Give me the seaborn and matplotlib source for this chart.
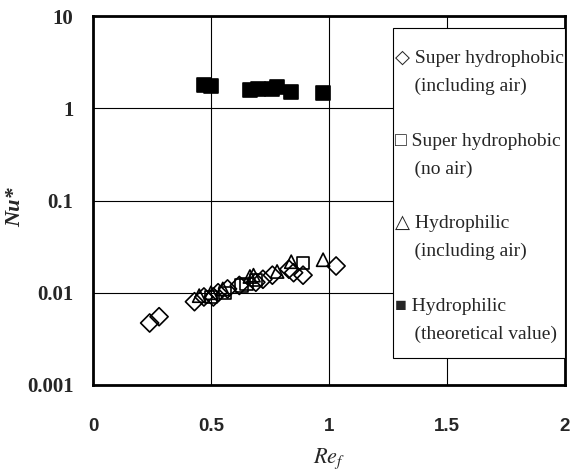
import matplotlib
matplotlib.use("Agg")
import matplotlib.pyplot as plt
from matplotlib.font_manager import FontProperties
from matplotlib.patches import Rectangle
import seaborn as sns

# Super hydrophobic (including air)
sh_air_x = [0.24, 0.28, 0.43, 0.47, 0.51, 0.53, 0.57, 0.62, 0.69, 0.72, 0.76, 0.83, 0.85, 0.89, 1.03]
sh_air_y = [0.0047, 0.0055, 0.0080, 0.0090, 0.0090, 0.0100, 0.0110, 0.0120, 0.0130, 0.0140, 0.0155, 0.0180, 0.0165, 0.0155, 0.0195]
# Super hydrophobic (no air)
sh_noair_x = [0.50, 0.56, 0.63, 0.65, 0.69, 0.89]
sh_noair_y = [0.0090, 0.0100, 0.0120, 0.0125, 0.0138, 0.0210]
# Hydrophilic (including air)
hp_air_x = [0.45, 0.50, 0.55, 0.665, 0.68, 0.78, 0.84, 0.975]
hp_air_y = [0.0093, 0.0100, 0.0110, 0.0150, 0.0155, 0.0170, 0.0217, 0.0228]
# Hydrophilic (theoretical value)
hp_th_x = [0.47, 0.50, 0.665, 0.70, 0.76, 0.78, 0.84, 0.975]
hp_th_y = [1.79, 1.75, 1.58, 1.62, 1.60, 1.68, 1.50, 1.45]

labels = ["\u25C7 Super hydrophobic\n    (including air)", "\u25A1 Super hydrophobic\n    (no air)",
          "\u25B3 Hydrophilic\n    (including air)", "\u25A0 Hydrophilic\n    (theoretical value)"]
xticks = [0, 0.5, 1, 1.5, 2]
xticklabels = ["0", "0.5", "1", "1.5", "2"]
yticks = [0.001, 0.01, 0.1, 1, 10]
yticklabels = ["0.001", "0.01", "0.1", "1", "10"]

sns.set_theme(style="white")
plt.rcParams["mathtext.fontset"] = "stix"
plt.rcParams["font.family"] = ["Liberation Serif", "DejaVu Sans"]

fig = plt.figure(figsize=(5.77, 4.72), dpi=100)
ax = fig.add_axes([93/577, 1-385/472, (565-93)/577, (385-16)/472])

series = [
    (sh_air_x, sh_air_y, "D", 85, False, labels[0]),
    (sh_noair_x, sh_noair_y, "s", 80, False, labels[1]),
    (hp_air_x, hp_air_y, "^", 90, False, labels[2]),
    (hp_th_x, hp_th_y, "s", 105, True, labels[3]),
]
for xs, ys, m, s, filled, lab in series:
    sns.scatterplot(x=xs, y=ys, marker=m, s=s, ax=ax, color="black",
                    linewidth=1.2, label=lab, zorder=3)
    coll = ax.collections[-1]
    coll.set_edgecolor("black")
    coll.set_facecolor("black" if filled else "none")

ax.set_yscale("log")
ax.set_xlim(0, 2)
ax.set_ylim(0.001, 10)
ax.set_xticks(xticks)
ax.set_xticklabels(xticklabels, fontfamily="Liberation Sans", fontweight="bold", fontsize=13.5)
ax.set_yticks(yticks)
ax.set_yticklabels(yticklabels, fontfamily="Liberation Serif", fontweight="bold", fontsize=15)
ax.minorticks_off()
ax.tick_params(axis="x", length=0, pad=24)
ax.tick_params(axis="y", length=0, pad=14)
ax.grid(True, color="black", linewidth=0.8)
ax.set_axisbelow(True)
for sp in ax.spines.values():
    sp.set_color("black")
    sp.set_linewidth(2.0)
    sp.set_visible(True)

ax.set_ylabel("Nu*", fontfamily="Liberation Serif", fontstyle="italic", fontweight="bold",
              fontsize=16)
ax.yaxis.set_label_coords(-0.144, 0.482)
ax.set_xlabel(r"$Re_f$", fontsize=16, labelpad=8)

# legend frame box
ax.add_patch(Rectangle((0.6356, 0.0732), 1.0 - 0.6356, 0.9675 - 0.0732,
                       transform=ax.transAxes, facecolor="white", edgecolor="black",
                       linewidth=0.8, zorder=4, clip_on=False))

leg = ax.legend(loc="upper left", bbox_to_anchor=(0.640, 0.907), borderaxespad=0,
                frameon=False,
                prop=FontProperties(family=["Liberation Serif", "DejaVu Sans"], size=14),
                labelspacing=1.95, handletextpad=0.0, handlelength=0.0,
                borderpad=0.0)
leg.set_zorder(5)
for t in leg.get_texts():
    t.set_linespacing(1.78)
for h in leg.legend_handles:
    h.set_visible(False)

fig.savefig("out.png", dpi=100)
